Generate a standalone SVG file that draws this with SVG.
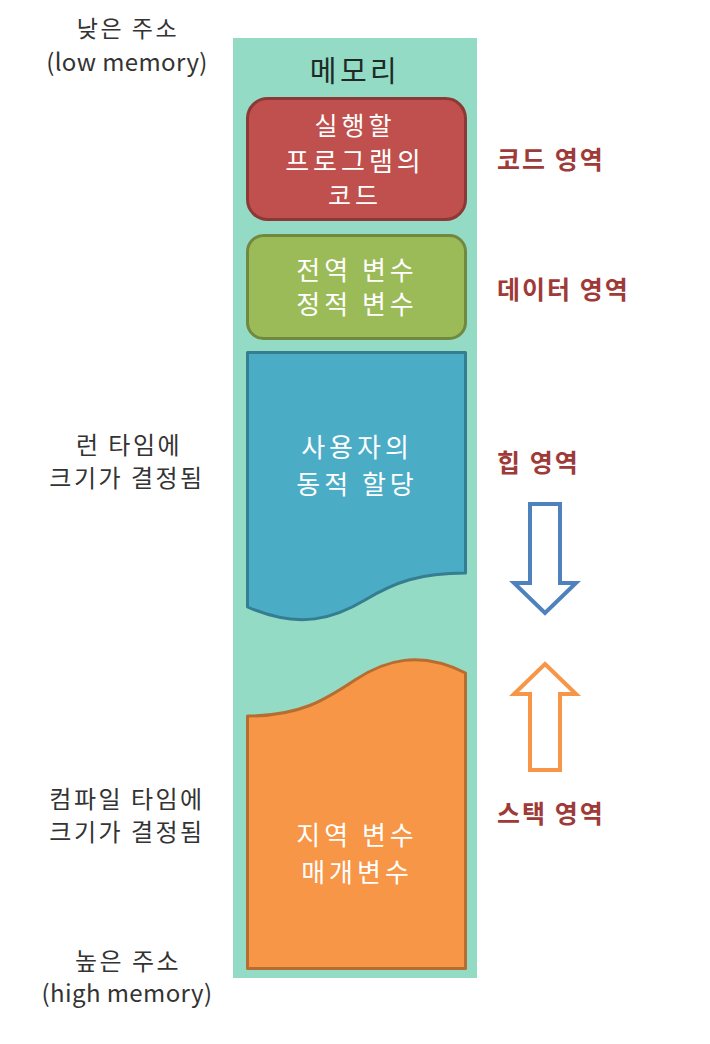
<svg xmlns="http://www.w3.org/2000/svg" width="710" height="1044" viewBox="0 0 710 1044">
<style>
text{font-family:"Noto Sans CJK KR","Liberation Sans",sans-serif;dominant-baseline:central;text-anchor:middle}
.w{fill:#fff;font-size:26px;letter-spacing:4px}
.l{fill:#333;font-size:24px;letter-spacing:2.5px}
.e{fill:#333;font-size:24px;letter-spacing:0.4px}
.r{fill:#9e3b39;font-size:25px;font-weight:bold;letter-spacing:2px;text-anchor:start}
</style>
<rect width="710" height="1044" fill="#fff"/>
<g id="memory">
<rect x="233" y="38" width="244" height="940" fill="#93dbc4"/>
<text x="355" y="69" style="font-size:29px;fill:#1e2a26;letter-spacing:3.5px">메모리</text>
</g>
<g id="code">
<rect x="247.5" y="98.5" width="218" height="121" rx="20" fill="#c0504d" stroke="#8c3836" stroke-width="3"/>
<text class="w" x="355" y="124" style="font-size:25px">실행할</text>
<text class="w" x="355" y="159">프로그램의</text>
<text class="w" x="355" y="194" style="font-size:25px">코드</text>
</g>
<g id="data">
<rect x="247.5" y="235.5" width="218" height="103" rx="16" fill="#9bbb59" stroke="#71893f" stroke-width="3"/>
<text class="w" x="357" y="268">전역 변수</text>
<text class="w" x="357" y="302">정적 변수</text>
</g>
<g id="heap">
<path d="M247.5 352.5 H465.5 V573 C420 573 395 582 365 600 C335 618 300 630 247.5 607 Z" fill="#4bacc6" stroke="#357d91" stroke-width="3" stroke-linejoin="round"/>
<text class="w" x="357" y="445">사용자의</text>
<text class="w" x="357" y="482">동적 할당</text>
</g>
<g id="stack">
<path d="M247.5 716 C300 716 325 700 355 680 C385 660 420 650 465.5 673 V968.5 H247.5 Z" fill="#f79646" stroke="#b66d31" stroke-width="3" stroke-linejoin="round"/>
<text class="w" x="357" y="833">지역 변수</text>
<text class="w" x="357" y="870">매개변수</text>
</g>
<g id="labels-left">
<text class="l" x="128" y="27" style="font-size:23px">낮은 주소</text>
<text class="e" x="127" y="60">(low memory)</text>
<text class="l" x="129" y="443">런 타임에</text>
<text class="l" x="127" y="476">크기가 결정됨</text>
<text class="l" x="127" y="797">컴파일 타임에</text>
<text class="l" x="127" y="830">크기가 결정됨</text>
<text class="l" x="128" y="959">높은 주소</text>
<text class="e" x="127" y="991">(high memory)</text>
</g>
<g id="labels-right">
<text class="r" x="497" y="158">코드 영역</text>
<text class="r" x="497" y="288">데이터 영역</text>
<text class="r" x="497" y="461">힙 영역</text>
<text class="r" x="497" y="812">스택 영역</text>
</g>
<g id="connectors">
<path d="M530 504 H560 V583 H576 L545 613 L514 583 H530 Z" fill="#fff" stroke="#4f81bd" stroke-width="4" stroke-linejoin="miter"/>
<path d="M545 664 L576 694 H560 V770 H530 V694 H514 Z" fill="#fff" stroke="#f79646" stroke-width="4" stroke-linejoin="miter"/>
</g>
</svg>
